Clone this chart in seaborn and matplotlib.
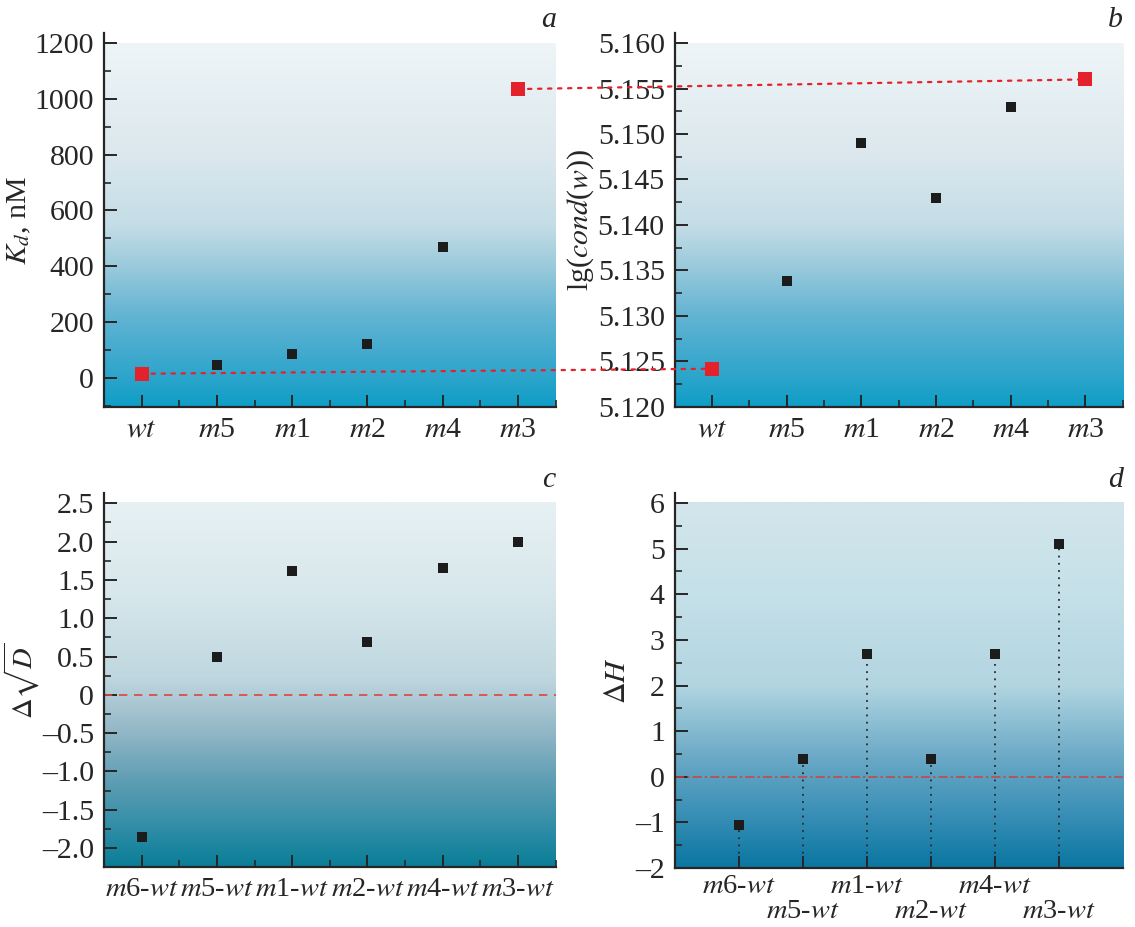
import numpy as np
import pandas as pd
import matplotlib
matplotlib.use("Agg")
import matplotlib.pyplot as plt
import seaborn as sns
from matplotlib.colors import LinearSegmentedColormap
from matplotlib.patches import ConnectionPatch
from matplotlib.ticker import MultipleLocator, FuncFormatter

# ==========================================
# DATA
# ==========================================
mutants = ['wt', 'm5', 'm1', 'm2', 'm4', 'm3']
kd_nM = [15, 48, 87, 120, 470, 1035]
lg_cond = [5.1242, 5.1338, 5.1490, 5.1430, 5.1530, 5.1560]
highlight = ['wt', 'm3']

diffs = ['m6-wt', 'm5-wt', 'm1-wt', 'm2-wt', 'm4-wt', 'm3-wt']
d_sqrtD = [-1.86, 0.50, 1.62, 0.69, 1.66, 2.00]
d_H = [-1.05, 0.40, 2.70, 0.40, 2.70, 5.10]

# ==========================================
# STYLE
# ==========================================
sns.set_style('ticks')
plt.rcParams['font.family'] = ['Liberation Serif', 'DejaVu Serif']
plt.rcParams['mathtext.fontset'] = 'stix'
plt.rcParams['font.size'] = 21.5
plt.rcParams['axes.linewidth'] = 1.6

FS = 21.5
FS_C = 20.5
RED = '#e4222b'
BLACK = '#1c1c1c'

grad_ab = LinearSegmentedColormap.from_list('ab', [
    (0.0, '#0f9ec7'), (0.1, '#33a6cc'), (0.25, '#62b4d3'), (0.38, '#98c9db'),
    (0.5, '#c4dde6'), (0.7, '#dce8ee'), (1.0, '#eef5f7')])
grad_c = LinearSegmentedColormap.from_list('c', [
    (0.0, '#0a7e97'), (0.1, '#2e8ca6'), (0.25, '#64a0b5'), (0.37, '#92b7c6'),
    (0.52, '#bfd7df'), (0.75, '#d7e7ec'), (1.0, '#e7f1f3')])
grad_d = LinearSegmentedColormap.from_list('d', [
    (0.0, '#0a76a1'), (0.15, '#3a90b6'), (0.3, '#6aa9c6'), (0.42, '#95c4d6'),
    (0.5, '#b2d5e1'), (0.75, '#c5e0e8'), (1.0, '#d3e6ec')])


def cat_label(s):
    # italic m / wt, upright digits
    out = []
    for part in s.split('-'):
        if part == 'wt':
            out.append(r'$wt$')
        else:
            out.append(r'$m$' + part[1:])
    return '-'.join(out)


def dash_minus(fmt):
    def f(v, pos):
        if abs(v) < 1e-12:
            return '0'
        return (fmt % v).replace('-', '\u2013')
    return f


def background(ax, cmap, top):
    x0, x1 = ax.get_xlim()
    y0, _ = ax.get_ylim()
    grad = np.linspace(0, 1, 256).reshape(-1, 1)
    ax.imshow(grad, cmap=cmap, origin='lower', aspect='auto',
              extent=[x0, x1, y0, top], zorder=0, interpolation='bilinear')


def style_axes(ax, xminor=True):
    sns.despine(ax=ax)
    ax.tick_params(which='major', direction='in', length=9, width=1.4,
                   labelsize=FS, pad=7)
    ax.tick_params(which='minor', direction='in', length=5, width=1.2)
    if xminor:
        ax.xaxis.set_minor_locator(MultipleLocator(0.5))


fig = plt.figure(figsize=(11.35, 9.27), dpi=100)
ax_a = fig.add_axes([0.0916, 0.561, 0.398, 0.4034])
ax_b = fig.add_axes([0.5943, 0.561, 0.395, 0.4034])
ax_c = fig.add_axes([0.0916, 0.0644, 0.398, 0.4035])
ax_d = fig.add_axes([0.5943, 0.0636, 0.395, 0.4046])

df_top = pd.DataFrame({'mutant': mutants, 'kd': kd_nM, 'lg': lg_cond})
df_top['hl'] = df_top['mutant'].isin(highlight)
df_bot = pd.DataFrame({'diff': diffs, 'dD': d_sqrtD, 'dH': d_H})

# ==========================================
# a
# ==========================================
sns.stripplot(data=df_top[~df_top.hl], x='mutant', y='kd', order=mutants,
              jitter=False, marker='s', color=BLACK, size=7, linewidth=0, ax=ax_a, zorder=3)
sns.stripplot(data=df_top[df_top.hl], x='mutant', y='kd', order=mutants,
              jitter=False, marker='s', color=RED, size=10, linewidth=0, ax=ax_a, zorder=3)
ax_a.set_xlim(-0.5, 5.5)
ax_a.set_ylim(-104, 1236)
ax_a.yaxis.set_major_locator(MultipleLocator(200))
ax_a.yaxis.set_minor_locator(MultipleLocator(100))
ax_a.yaxis.set_major_formatter(FuncFormatter(dash_minus('%d')))
ax_a.set_xticks(range(len(mutants)))
ax_a.set_xticklabels([cat_label(m) for m in mutants])
ax_a.set_xlabel('')
ax_a.set_ylabel(r'$K_d$, nM', fontsize=FS, labelpad=1)
style_axes(ax_a)
background(ax_a, grad_ab, 1200)

# ==========================================
# b
# ==========================================
sns.stripplot(data=df_top[~df_top.hl], x='mutant', y='lg', order=mutants,
              jitter=False, marker='s', color=BLACK, size=7, linewidth=0, ax=ax_b, zorder=3)
sns.stripplot(data=df_top[df_top.hl], x='mutant', y='lg', order=mutants,
              jitter=False, marker='s', color=RED, size=10, linewidth=0, ax=ax_b, zorder=3)
ax_b.set_xlim(-0.5, 5.5)
ax_b.set_ylim(5.120, 5.1611)
ax_b.yaxis.set_major_locator(MultipleLocator(0.005))
ax_b.yaxis.set_minor_locator(MultipleLocator(0.0025))
ax_b.yaxis.set_major_formatter(FuncFormatter(lambda v, p: '%.3f' % v))
ax_b.set_xticks(range(len(mutants)))
ax_b.set_xticklabels([cat_label(m) for m in mutants])
ax_b.set_xlabel('')
ax_b.set_ylabel(r'lg($cond$($w$))', fontsize=FS, labelpad=1)
style_axes(ax_b)
background(ax_b, grad_ab, 5.160)

# red dotted links between the highlighted points of a and b
for m in highlight:
    i = mutants.index(m)
    con = ConnectionPatch(xyA=(i, kd_nM[i]), coordsA=ax_a.transData,
                          xyB=(i, lg_cond[i]), coordsB=ax_b.transData,
                          color=RED, lw=1.6, linestyle=(0, (1.5, 3.0)))
    fig.add_artist(con)

# ==========================================
# c
# ==========================================
sns.stripplot(data=df_bot, x='diff', y='dD', order=diffs, jitter=False, marker='s',
              color=BLACK, size=7, linewidth=0, ax=ax_c, zorder=3)
ax_c.set_xlim(-0.5, 5.5)
ax_c.set_ylim(-2.25, 2.63)
ax_c.axhline(0, color='#e0453c', lw=1.2, linestyle=(0, (5, 4)), zorder=2)
ax_c.yaxis.set_major_locator(MultipleLocator(0.5))
ax_c.yaxis.set_minor_locator(MultipleLocator(0.25))
ax_c.yaxis.set_major_formatter(FuncFormatter(dash_minus('%.1f')))
ax_c.set_xticks(range(len(diffs)))
ax_c.set_xticklabels([cat_label(d) for d in diffs])
ax_c.set_xlabel('')
ax_c.set_ylabel(r'$\Delta\sqrt{D}$', fontsize=FS - 1)
ax_c.yaxis.set_label_coords(-0.138, 0.5)
style_axes(ax_c)
ax_c.tick_params(axis='x', labelsize=FS_C)
background(ax_c, grad_c, 2.5)

# ==========================================
# d
# ==========================================
sns.stripplot(data=df_bot, x='diff', y='dH', order=diffs, jitter=False, marker='s',
              color=BLACK, size=7, linewidth=0, ax=ax_d, zorder=3)
ax_d.set_xlim(-1, 6)
ax_d.set_ylim(-2, 6.22)
ax_d.vlines(range(len(diffs)), -2, d_H, colors='#2a2a2a', lw=1.3,
            linestyles=(0, (1, 3)), zorder=2)
ax_d.axhline(0, color='#d0403c', lw=1.1, linestyle=(0, (6, 2, 1.5, 2)), zorder=2)
ax_d.yaxis.set_major_locator(MultipleLocator(1))
ax_d.yaxis.set_minor_locator(MultipleLocator(0.5))
ax_d.yaxis.set_major_formatter(FuncFormatter(dash_minus('%d')))
ax_d.set_xticks(range(len(diffs)))
ax_d.set_xticklabels([cat_label(d) for d in diffs])
ax_d.set_xlabel('')
ax_d.set_ylabel(r'$\Delta H$', fontsize=FS, labelpad=3)
style_axes(ax_d, xminor=False)
ax_d.tick_params(axis='x', labelsize=FS_C)
for k, t in enumerate(ax_d.xaxis.get_major_ticks()):
    t.set_pad(4 if k % 2 == 0 else 22)
background(ax_d, grad_d, 6)

# panel letters
for ax, letter in [(ax_a, 'a'), (ax_b, 'b'), (ax_c, 'c'), (ax_d, 'd')]:
    ax.text(1.0, 1.035, letter, transform=ax.transAxes, ha='right', va='center',
            fontsize=FS, fontstyle='italic')

plt.savefig('out.png', dpi=100)
plt.close()
